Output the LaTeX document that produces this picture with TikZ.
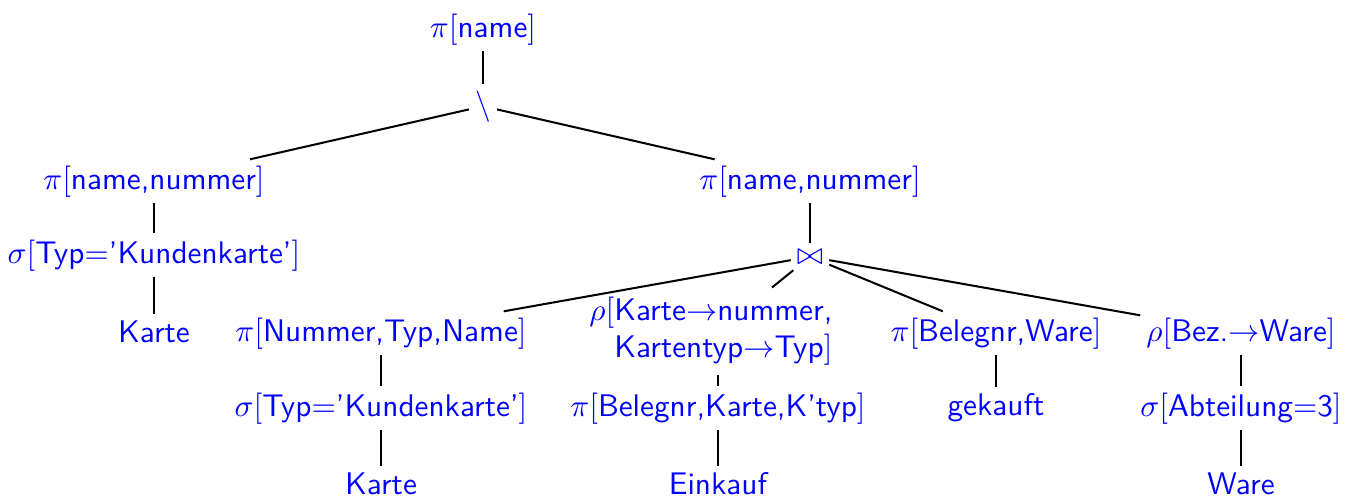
\documentclass[tikz,border=0pt]{standalone}
\begin{document}
\begin{tikzpicture}[x=0.32pt,y=-0.32pt,
  lbl/.style={text=blue, font=\sffamily, inner sep=1.8pt, anchor=base},
  edge/.style={draw=black, line width=0.65pt}]
\useasboundingbox (0,0) rectangle (1356,498);

% top of the tree
\node[lbl] (root)  at (483,37)  {$\pi[$name$]$};
\node[lbl] (minus) at (483,114) {$\setminus$};

% left branch
\node[lbl] (lproj) at (154,189) {$\pi[$name,nummer$]$};
\node[lbl] (lsel)  at (154,263) {$\sigma[$Typ$=$'Kundenkarte'$]$};
\node[lbl] (lrel)  at (154,342) {Karte};

% right branch
\node[lbl] (rproj) at (810,189) {$\pi[$name,nummer$]$};
\node[lbl] (join)  at (810,264) {$\bowtie$};

% join operand 1
\node[lbl] (aproj) at (381,341) {$\pi[$Nummer,Typ,Name$]$};
\node[lbl] (asel)  at (381,416) {$\sigma[$Typ$=$'Kundenkarte'$]$};
\node[lbl] (arel)  at (381,494) {Karte};

% join operand 2
\node[lbl] (bren)  at (718,320) {\begin{tabular}[t]{@{}r@{\hspace{4.5pt}}}$\rho[$Karte$\to$nummer,\\Kartentyp$\to$Typ$]$\end{tabular}};
\node[lbl] (bproj) at (718,416) {$\pi[$Belegnr,Karte,K'typ$]$};
\node[lbl] (brel)  at (718,494) {Einkauf};

% join operand 3
\node[lbl] (cproj) at (996,341) {$\pi[$Belegnr,Ware$]$};
\node[lbl] (crel)  at (996,415) {gekauft};

% join operand 4
\node[lbl] (dren)  at (1241,341) {$\rho[$Bez.$\to$Ware$]$};
\node[lbl] (dsel)  at (1241,416) {$\sigma[$Abteilung$=$3$]$};
\node[lbl] (drel)  at (1241,494) {Ware};

% edges
\draw[edge] (root) -- (minus);
\draw[edge] (minus) -- (lproj);
\draw[edge] (minus) -- (rproj);
\draw[edge] (lproj) -- (lsel);
\draw[edge] (lsel) -- (lrel);
\draw[edge] (rproj) -- (join);
\draw[edge] (join) -- (aproj);
\draw[edge] (join) -- (bren);
\draw[edge] (join) -- (cproj);
\draw[edge] (join) -- (dren);
\draw[edge] (aproj) -- (asel);
\draw[edge] (asel) -- (arel);
\draw[edge] (bren) -- (bproj);
\draw[edge] (bproj) -- (brel);
\draw[edge] (cproj) -- (crel);
\draw[edge] (dren) -- (dsel);
\draw[edge] (dsel) -- (drel);
\end{tikzpicture}
\end{document}
